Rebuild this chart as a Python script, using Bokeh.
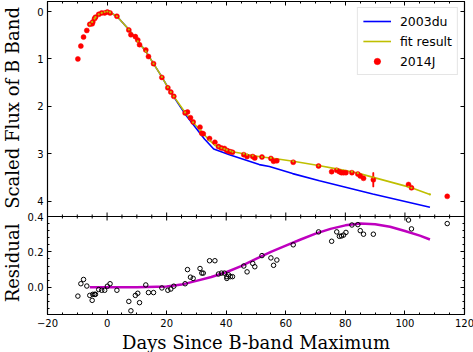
import numpy as np
from bokeh.plotting import figure
from bokeh.layouts import row
from bokeh.models import (Range1d, LinearAxis, FixedTicker, SingleIntervalTicker,
                          CustomJSTickFormatter, Label, Legend, LegendItem, Span)
from bokeh.embed import file_html
from bokeh.resources import INLINE

# ---------------- data ----------------
sn14j_days = [-9.8, -8.8, -7.9, -6.8, -5.8, -5.0, -4.8, -4.2, -3.9, -2.8, -1.8, -0.8, 0.1, 1.0,
              3.3, 7.3, 8.0, 9.5, 10.3, 10.9, 13.0, 13.9, 15.6, 18.4, 20.4, 21.4, 22.4, 26.2,
              27.0, 28.0, 28.9, 31.2, 31.8, 32.3, 34.4, 36.2, 37.4, 38.4, 39.4, 40.2, 40.8,
              41.4, 42.1, 45.9, 47.0, 48.9, 49.6, 52.0, 55.0, 55.9, 57.0, 62.5, 71.0, 75.4,
              77.1, 78.0, 78.7, 79.4, 80.2, 82.2, 84.2, 85.0, 86.1, 89.4, 101.2, 102.2, 114.2]
sn14j_mag = [1.00, 0.73, 0.54, 0.40, 0.27, 0.26, 0.22, 0.15, 0.12, 0.06, 0.03, 0.03, 0.01, 0.03,
             0.10, 0.39, 0.49, 0.53, 0.60, 0.70, 0.81, 0.95, 1.10, 1.39, 1.61, 1.70, 1.79, 2.14,
             2.12, 2.24, 2.33, 2.44, 2.57, 2.58, 2.68, 2.76, 2.85, 2.88, 2.89, 2.93, 2.95,
             2.96, 2.97, 3.02, 3.06, 3.06, 3.09, 3.07, 3.10, 3.16, 3.15, 3.18, 3.26, 3.38,
             3.35, 3.38, 3.40, 3.40, 3.40, 3.40, 3.43, 3.47, 3.52, 3.55, 3.65, 3.72, 3.90]
err_days = [89.4]
err_mag = [3.55]
err_size = [0.16]

du03_days = [-5.8, -4.2, -2.8, -0.8, 0.1, 1.0, 3.3, 7.3, 10.3, 13.0, 15.6, 18.4, 20.4, 22.4,
             26.5, 32.7, 35.8, 41.1, 51.1, 54.5, 62.3, 71.3, 89.2, 108.4]
du03_mag = [0.27, 0.15, 0.06, 0.01, 0.00, 0.02, 0.10, 0.38, 0.63, 0.84, 1.10, 1.38, 1.60, 1.80,
            2.19, 2.69, 2.90, 3.02, 3.23, 3.27, 3.42, 3.57, 3.85, 4.13]

fit_days = [-5.8, -5.0, -4.2, -3.9, -2.8, -1.8, -0.8, 0.1, 1.0, 3.3, 7.3, 10.3, 13.0, 15.6,
            18.4, 20.4, 21.4, 22.4, 26.2, 28.9, 31.2, 34.4, 36.2, 37.4, 38.4, 39.4, 40.2,
            41.4, 42.1, 45.9, 47.0, 48.9, 52.0, 55.0, 62.5, 71.0, 77.1, 82.2, 84.2, 89.4,
            101.2, 102.2, 108.4]
fit_mag = [0.27, 0.22, 0.15, 0.12, 0.06, 0.03, 0.01, 0.00, 0.02, 0.10, 0.38, 0.63, 0.84, 1.10,
           1.38, 1.60, 1.70, 1.79, 2.13, 2.34, 2.50, 2.72, 2.82, 2.85, 2.88, 2.90, 2.92,
           2.94, 2.96, 3.00, 3.02, 3.04, 3.07, 3.09, 3.16, 3.25, 3.32, 3.38, 3.41, 3.50,
           3.70, 3.72, 3.86]

res_days = [-9.8, -8.8, -7.9, -6.8, -5.8, -5.0, -4.8, -4.2, -3.9, -2.8, -1.8, -0.8, 0.1, 1.0,
            3.3, 7.3, 8.0, 9.5, 10.3, 10.9, 13.0, 13.9, 15.6, 18.4, 20.4, 21.4, 22.4, 26.2,
            27.0, 28.0, 28.9, 31.2, 31.8, 32.3, 34.4, 36.2, 37.4, 38.4, 39.4, 40.2, 40.2,
            40.8, 41.4, 42.1, 45.9, 47.0, 48.9, 49.6, 52.0, 55.0, 55.9, 57.0, 62.5, 71.0,
            75.4, 77.1, 78.0, 78.7, 79.4, 80.2, 82.2, 84.2, 85.0, 86.1, 89.4, 101.2, 102.2, 114.2]
res_vals = [-0.050, 0.020, 0.044, 0.007, -0.046, -0.074, -0.040, -0.040, -0.040, -0.013, -0.017,
            -0.017, 0.006, 0.020, -0.017, -0.080, -0.133, -0.046, -0.034, -0.087, 0.013, -0.030,
            -0.030, -0.004, -0.017, -0.010, 0.006, 0.020, 0.100, 0.057, 0.050, 0.106, 0.080,
            0.080, 0.150, 0.150, 0.075, 0.080, 0.080, 0.060, 0.050, 0.070, 0.060, 0.060, 0.120,
            0.087, 0.135, 0.116, 0.179, 0.166, 0.124, 0.154, 0.240, 0.313, 0.260, 0.313, 0.288,
            0.290, 0.295, 0.310, 0.352, 0.354, 0.320, 0.300, 0.300, 0.380, 0.330, 0.360]

fitres_days = [-5.8, 0, 10, 20, 25, 30, 35, 40, 45, 50, 55, 60, 65, 70, 75, 80, 85, 90, 95,
               100, 105, 108.4]
fitres_vals = [0.0, 0.0, 0.0, 0.004, 0.015, 0.036, 0.058, 0.085, 0.12, 0.16, 0.20, 0.235,
               0.27, 0.303, 0.33, 0.35, 0.36, 0.356, 0.342, 0.318, 0.292, 0.27]

mag_ticks = [0, 1, 2, 3, 4]
mag_labels = ["0", "1", "2", "3", "4"]
res_ticks = [0.0, 0.2, 0.4]
res_labels = ["0.0", "0.2", "0.4"]
x_ticks = [-20, 0, 20, 40, 60, 80, 100, 120]
x_labels = ["\u221220", "0", "20", "40", "60", "80", "100", "120"]

# ---------------- layout ----------------
LAB_W = 24                 # width of the strip holding the y labels
FW, FH = 417, 313
HB = 98                    # residual panel height (px)
HT = FH - HB               # light-curve panel height (px)
MAG_TOP, MAG_BOT = -0.211, 4.325
RES_BOT, RES_TOP = -0.154, 0.40
s_m = (MAG_BOT - MAG_TOP) / HT
s_r = (RES_TOP - RES_BOT) / HB

p = figure(frame_width=FW, frame_height=FH, x_range=Range1d(-20, 120), y_range=Range1d(0, FH),
           output_backend="svg", toolbar_location=None, y_axis_location=None,
           min_border_left=45 - LAB_W, min_border_right=11, min_border_top=1, min_border_bottom=0)
p.extra_y_ranges = {
    "mag": Range1d(start=MAG_BOT + HB * s_m, end=MAG_TOP),
    "res": Range1d(start=RES_BOT, end=RES_BOT + FH * s_r),
}
p.grid.visible = False
p.background_fill_color = "white"
p.border_fill_color = "white"
p.outline_line_color = "black"
p.outline_line_width = 1.2

# y tick positions in frame pixels
res_pos = [(v - RES_BOT) / s_r for v in res_ticks]
mag_pos = [HB + (MAG_BOT - v) / s_m for v in mag_ticks]
all_pos = res_pos + mag_pos
all_lab = res_labels + mag_labels
minor_vals = [v for v in np.arange(-0.12, 0.401, 0.04) if min(abs(v - t) for t in res_ticks) > 1e-6]
minor_pos = [(v - RES_BOT) / s_r for v in minor_vals]
yticker = FixedTicker(ticks=all_pos, minor_ticks=minor_pos)
ylab_fmt = CustomJSTickFormatter(args=dict(pos=all_pos, labels=all_lab), code="""
for (let i = 0; i < pos.length; i++) { if (Math.abs(pos[i] - tick) < 1e-6) return labels[i]; }
return "";
""")
blank = CustomJSTickFormatter(code="return '';")

def style_axis(ax):
    ax.major_tick_in = 4
    ax.major_tick_out = 0
    ax.minor_tick_in = 2
    ax.minor_tick_out = 0
    ax.axis_line_color = "black"
    ax.major_tick_line_color = "black"
    ax.minor_tick_line_color = "black"
    ax.major_label_text_font = "DejaVu Sans"
    ax.major_label_text_font_size = "10px"
    ax.major_label_text_color = "black"

left = LinearAxis(ticker=yticker, formatter=ylab_fmt)
style_axis(left)
left.major_label_standoff = 4
p.add_layout(left, "left")

right = LinearAxis(ticker=yticker, formatter=blank)
style_axis(right)
right.major_label_standoff = 0
right.major_label_text_font_size = "0px"
p.add_layout(right, "right")

xtick = SingleIntervalTicker(interval=20, num_minor_ticks=4)
top = LinearAxis(ticker=xtick, formatter=blank)
style_axis(top)
top.major_label_standoff = 0
top.major_label_text_font_size = "0px"
p.add_layout(top, "above")

for ax in p.below:
    ax.ticker = xtick
    style_axis(ax)
    ax.major_label_overrides = {t: l for t, l in zip(x_ticks, x_labels)}
    ax.major_label_standoff = 4
    ax.axis_label = "Days Since B-band Maximum"
    ax.axis_label_text_font = "DejaVu Serif"
    ax.axis_label_text_font_size = "18px"
    ax.axis_label_text_font_style = "normal"
    ax.axis_label_text_color = "black"
    ax.axis_label_standoff = 2

# panel separator and its ticks
p.add_layout(Span(location=HB, dimension="width", line_color="black", line_width=1.2))
xs_all = np.arange(-20, 121, 5)
xs_major = [x for x in xs_all if x % 20 == 0]
xs_minor = [x for x in xs_all if x % 20 != 0]
p.segment(x0=xs_major, x1=xs_major, y0=[HB - 4] * len(xs_major), y1=[HB + 4] * len(xs_major),
          line_color="black", line_width=1)
p.segment(x0=xs_minor, x1=xs_minor, y0=[HB - 2] * len(xs_minor), y1=[HB + 2] * len(xs_minor),
          line_color="black", line_width=1)

# ---------------- top panel ----------------
r_blue = p.line(du03_days, du03_mag, y_range_name="mag", line_color="#0000ff", line_width=1.6)
r_fit = p.line(fit_days, fit_mag, y_range_name="mag", line_color="#bfbf00", line_width=1.6)
p.segment(x0=err_days, x1=err_days,
          y0=[m - e for m, e in zip(err_mag, err_size)], y1=[m + e for m, e in zip(err_mag, err_size)],
          y_range_name="mag", line_color="#ff0000", line_width=1.5)
r_errleg = p.scatter(err_days, err_mag, y_range_name="mag", marker="dash", angle=np.pi / 2,
                     size=14, line_color="#ff0000", line_width=1.5)
r_pts = p.scatter(sn14j_days, sn14j_mag, y_range_name="mag", marker="circle", size=5,
                  fill_color="#ff0000", line_color="#ff0000", line_width=0.5)
p.scatter(fit_days, fit_mag, y_range_name="mag", marker="circle", size=2.2,
          fill_color="#bfbf00", line_color=None)

# ---------------- residual panel ----------------
p.line(fitres_days, fitres_vals, y_range_name="res", line_color="#bf00bf", line_width=2.5)
p.scatter(res_days, res_vals, y_range_name="res", marker="circle", size=4.5,
          fill_color=None, line_color="black", line_width=1)

# ---------------- legend ----------------
legend = Legend(items=[
    LegendItem(label="2003du", renderers=[r_blue]),
    LegendItem(label="fit result", renderers=[r_fit]),
    LegendItem(label="2014J", renderers=[r_errleg, r_pts]),
], location="top_right")
legend.margin = 6
legend.padding = 5
legend.spacing = 4
legend.glyph_width = 28
legend.glyph_height = 16
legend.label_standoff = 9
legend.label_text_font = "DejaVu Sans"
legend.label_text_font_size = "12.5px"
legend.label_text_color = "black"
legend.border_line_color = "#cccccc"
legend.border_line_width = 1
legend.background_fill_alpha = 0.8
p.add_layout(legend)

# ---------------- y labels (separate strip whose frame is aligned with the main frame) ----
lab = figure(width=LAB_W, height=352, x_range=Range1d(0, LAB_W), y_range=Range1d(0, FH),
             output_backend="svg", toolbar_location=None, x_axis_location=None,
             y_axis_location=None, min_border=0)
lab.grid.visible = False
lab.outline_line_color = None
lab.add_layout(Label(x=LAB_W / 2, y=HB + HT / 2, text="Scaled Flux of B Band",
                     angle=np.pi / 2, text_align="center", text_baseline="middle",
                     text_font="DejaVu Serif", text_font_size="18px", text_color="black"))
lab.add_layout(Label(x=LAB_W / 2, y=HB / 2, text="Residual",
                     angle=np.pi / 2, text_align="center", text_baseline="middle",
                     text_font="DejaVu Serif", text_font_size="18px", text_color="black"))

layout = row(lab, p, spacing=0)
open("out.html", "w").write(file_html(layout, INLINE))
